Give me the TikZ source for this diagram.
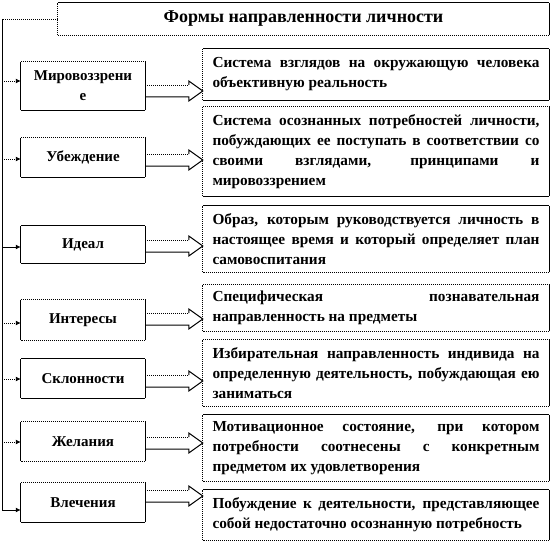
\documentclass[tikz,border=0pt]{standalone}
\usepackage{fontspec}
\setmainfont{Liberation Serif}
\usetikzlibrary{arrows.meta,calc}
\newlength\tw \setlength\tw{327pt}
\newcommand\jl[1]{\leavevmode\hbox to\tw{\spaceskip=0pt\xspaceskip=0pt\relax #1}}
\newcommand\nl[1]{\leavevmode\hbox{\spaceskip=0pt\xspaceskip=0pt\relax #1}}
\newcommand\boxedges[5]{%
  \draw[#2] (#1.north west) -- (#1.north east);
  \draw[#3] (#1.north east) -- (#1.south east);
  \draw[#4] (#1.south east) -- (#1.south west);
  \draw[#5] (#1.south west) -- (#1.north west);}
\newcommand\blockarrow[3]{%
  \coordinate (ba0) at (#1.east |- 0,#3);
  \coordinate (ba1) at (#2.west |- 0,#3);
  \draw[edgeD] ($(ba0)+(0,-6)$) -- ($(ba1)+(-14,-6)$);
  \draw[edgeS,line join=miter] ($(ba1)+(-14,-6)$) -- ($(ba1)+(-14,-10)$) -- (ba1)
     -- ($(ba1)+(-14,10)$) -- ($(ba1)+(-14,6)$) -- ($(ba0)+(0,6)$);}
\begin{document}
\begin{tikzpicture}[x=1pt,y=-1pt,
  edgeS/.style={line width=1pt,black},
  edgeD/.style={line width=0.9pt,black,dash pattern=on 1pt off 1pt},
  rbox/.style={minimum width=346pt,text width=327pt,inner sep=0pt,align=left,
     font=\bfseries\fontsize{15.3}{20}\selectfont},
  lbox/.style={minimum width=124pt,text width=112pt,inner sep=0pt,align=center,
     font=\bfseries\fontsize{15}{20}\selectfont},
  conn/.style={-{Latex[length=5pt,width=5pt]}}]
\useasboundingbox (0,0) rectangle (552,543);
% title
\node[minimum width=491pt,minimum height=32pt,inner sep=0pt,
  font=\bfseries\fontsize{18}{22}\selectfont] (title) at (303.5,19) {Формы направленности личности};
\boxedges{title}{edgeS}{edgeS}{edgeD}{edgeD}
% right boxes
\node[rbox,minimum height=51pt] (r1) at (376,74.5) {\jl{Система взглядов на окружающую человека}\\\nl{объективную реальность}};
\node[rbox,minimum height=89pt] (r2) at (376,151.5) {\jl{Система осознанных потребностей личности,}\\\jl{побуждающих ее поступать в соответствии со}\\\jl{своими взглядами, принципами и}\\\nl{мировоззрением}};
\node[rbox,minimum height=66pt] (r3) at (376,239) {\jl{Образ, которым руководствуется личность в}\\\jl{настоящее время и который определяет план}\\\nl{самовоспитания}};
\node[rbox,minimum height=46pt] (r4) at (376,308) {\jl{Специфическая познавательная}\\\nl{направленность на предметы}};
\node[rbox,minimum height=66pt] (r5) at (376,373) {\jl{Избирательная направленность индивида на}\\\jl{определенную деятельность, побуждающая ею}\\\nl{заниматься}};
\node[rbox,minimum height=66pt] (r6) at (376,448) {\jl{Мотивационное состояние, при котором}\\\jl{потребности соотнесены с конкретным}\\\nl{предметом их удовлетворения}};
\node[rbox,minimum height=50pt] (r7) at (376,515) {\jl{Побуждение к деятельности, представляющее}\\\nl{собой недостаточно осознанную потребность}};
\boxedges{r1}{edgeS}{edgeS}{edgeS}{edgeD}
\boxedges{r2}{edgeD}{edgeS}{edgeS}{edgeD}
\boxedges{r3}{edgeS}{edgeS}{edgeD}{edgeD}
\boxedges{r4}{edgeD}{edgeS}{edgeD}{edgeD}
\boxedges{r5}{edgeD}{edgeS}{edgeD}{edgeD}
\boxedges{r6}{edgeS}{edgeS}{edgeD}{edgeD}
\boxedges{r7}{edgeS}{edgeS}{edgeD}{edgeD}
% left boxes
\node[lbox,minimum height=48pt] (l1) at (83,86) {Мировоззрени\\е};
\node[lbox,minimum height=39pt] (l2) at (83,157.5) {Убеждение};
\node[lbox,minimum height=37pt] (l3) at (83,244.5) {Идеал};
\node[lbox,minimum height=40pt] (l4) at (83,320) {Интересы};
\node[lbox,minimum height=39pt] (l5) at (83,378.5) {Склонности};
\node[lbox,minimum height=39pt] (l6) at (83,441.5) {Желания};
\node[lbox,minimum height=39pt] (l7) at (83,502.5) {Влечения};
\boxedges{l1}{edgeD}{edgeS}{edgeS}{edgeS}
\boxedges{l2}{edgeD}{edgeS}{edgeS}{edgeS}
\boxedges{l3}{edgeS}{edgeS}{edgeS}{edgeS}
\boxedges{l4}{edgeD}{edgeS}{edgeD}{edgeS}
\boxedges{l5}{edgeS}{edgeS}{edgeS}{edgeS}
\boxedges{l6}{edgeD}{edgeS}{edgeD}{edgeS}
\boxedges{l7}{edgeD}{edgeS}{edgeS}{edgeS}
% block arrows
\blockarrow{l1}{r1}{91}
\blockarrow{l2}{r2}{160}
\blockarrow{l3}{r3}{246}
\blockarrow{l4}{r4}{319}
\blockarrow{l5}{r5}{381}
\blockarrow{l6}{r6}{443}
\blockarrow{l7}{r7}{496}
% spine
\coordinate (s0) at (2,19);
\coordinate (s1) at (2,81);
\coordinate (s2) at (2,159);
\coordinate (s3) at (2,247);
\coordinate (s4) at (2,323);
\coordinate (s5) at (2,379);
\coordinate (s6) at (2,442);
\coordinate (s7) at (2,510);
\draw[edgeD] (title.west) -- (s0);
\draw[edgeS] (s0) -- (s7);
\draw[edgeD,conn] (s1) -- (s1 -| l1.west);
\draw[edgeD,conn] (s2) -- (s2 -| l2.west);
\draw[edgeS,conn] (s3) -- (s3 -| l3.west);
\draw[edgeD,conn] (s4) -- (s4 -| l4.west);
\draw[edgeD,conn] (s5) -- (s5 -| l5.west);
\draw[edgeD,conn] (s6) -- (s6 -| l6.west);
\draw[edgeS,conn] (s7) -- (s7 -| l7.west);
\end{tikzpicture}
\end{document}
